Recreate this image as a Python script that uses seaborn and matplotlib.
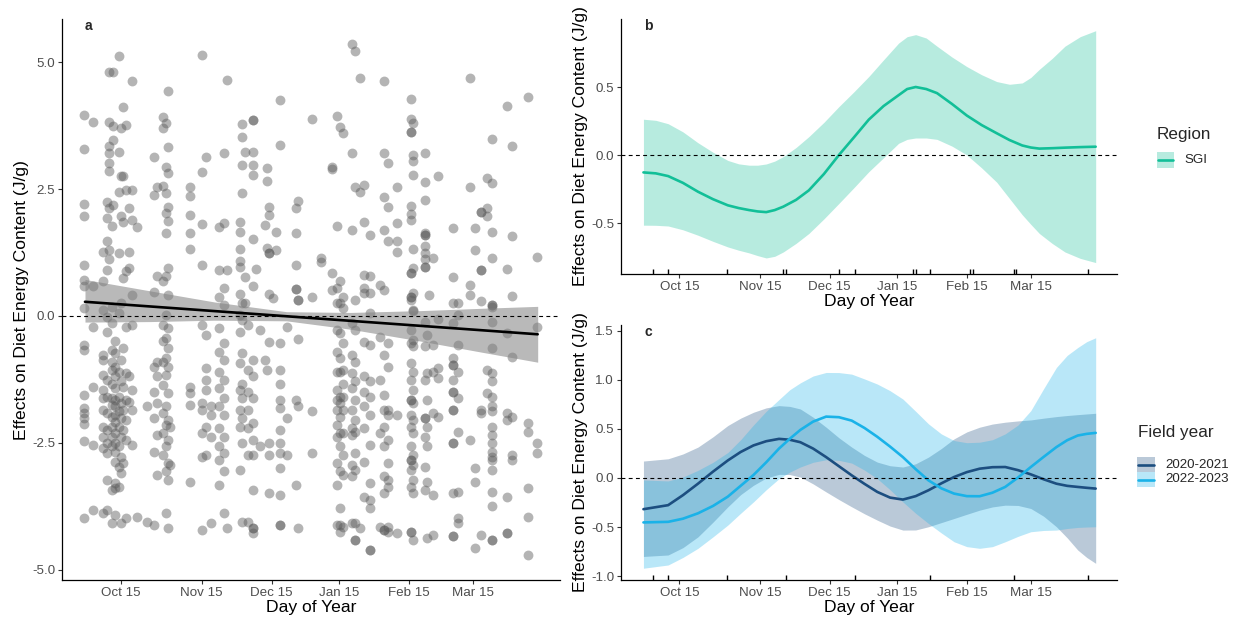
import matplotlib
matplotlib.use("Agg")
import matplotlib.pyplot as plt
import numpy as np
import pandas as pd
import seaborn as sns
from matplotlib.patches import Rectangle
from matplotlib.lines import Line2D

# ------------------------------------------------------------------ data
tick_days = [10, 46, 77, 107, 138, 166.5]
tick_labels = ["Oct 15", "Nov 15", "Dec 15", "Jan 15", "Feb 15", "Mar 15"]

# panel a: partial-residual points, grouped by sampling day
pt_days = [-6.1, -2.1, 2.0, 3.8, 5.0, 6.0, 6.8, 7.5, 9.3, 10.3, 11.2, 12.2, 13.9, 14.9,
           17.1, 21.9, 25.0, 26.0, 29.0, 30.2, 31.0, 32.0, 40.8, 46.0, 47.9, 50.0,
           53.8, 55.9, 57.1, 63.0, 63.9, 65.0, 66.7, 68.9, 70.0, 71.9, 74.1, 74.8,
           76.0, 77.8, 79.0, 80.8, 83.7, 87.9, 88.9, 94.8, 99.0, 103.7, 105.9, 107.4,
           108.9, 112.9, 114.0, 116.3, 118.0, 120.7, 124.9, 127.1, 128.8, 132.5,
           138.8, 139.8, 145.0, 145.9, 147.0, 148.8, 151.0, 157.7, 159.9, 165.0,
           167.3, 169.8, 172.5, 174.7, 181.4, 183.6, 191.0, 194.7]
pt_vals = [
    [3.95, 3.28, 2.21, 1.97, 1.01, 0.71, 0.60, 0.15, -0.57, -0.67, -1.56, -1.82, -1.92, -2.01, -2.13, -2.46, -3.98],
    [3.82, 0.60, -0.21, -1.39, -2.54, -3.83],
    [1.26, 0.69, 0.12, -0.77, -0.87, -1.16, -1.46, -1.62, -1.85, -2.18, -2.38, -2.60, -3.88],
    [2.25, 1.93, 1.47, 0.91, -0.01, -0.31, -1.26, -1.59, -1.92, -2.24, -2.51, -2.70, -3.23, -3.83],
    [4.80, 3.82, 3.35, 3.21, 3.01, 2.86, 2.12, 1.30, 1.13],
    [1.78, 0.18, -0.14, -0.67, -0.90, -1.06, -1.33, -1.62, -1.75, -1.98, -2.18, -2.38, -2.57, -3.43, -4.08],
    [4.81, 3.74, 3.47, 2.19],
    [-0.50, -0.73, -1.00, -1.19, -1.42, -1.65, -1.78, -1.95, -2.08, -2.31, -2.51, -2.67, -2.87, -3.29, -3.39, -3.92],
    [5.13, 3.24, 2.45, 1.24, 0.05, -1.10, -1.59, -1.88, -2.18, -2.57, -2.97, -3.36],
    [3.70, 2.75, 1.97, 0.25, -0.87, -1.29, -1.72, -2.01, -2.38, -2.77, -3.10, -4.08],
    [4.12, 2.75, 1.86, 0.74, -0.64, -1.39, -1.85, -2.24, -2.90],
    [3.76, 2.48, 0.88, -0.21, -1.13, -1.65, -2.05, -2.44, -3.98],
    [2.12, 1.27, 0.94, -1.19, -1.69],
    [4.63, 2.48, 1.89, 0.42, -0.18, -1.46, -1.85, -2.54],
    [1.75, -3.95],
    [-1.77, -4.05],
    [3.14, 2.39, 0.48, -1.00, -1.49, -2.01, -2.67, -4.11],
    [2.55, 0.79, -0.90, -1.19, -1.72, -2.34, -3.13],
    [3.91, 3.70, 2.57, 0.68, -0.18, -0.50, -0.90, -1.36, -1.92, -2.31, -2.74],
    [3.81, 2.94, 2.42, 2.02, 1.63, 0.78, 0.02, -0.44, -0.83, -1.16, -1.78, -2.15, -2.57, -3.06, -3.88],
    [4.43, 3.32, 2.81, 2.14, 1.87, 0.94, 0.42, -0.24, -0.64, -1.00, -1.52, -2.05, -2.44, -2.90, -3.23, -4.18],
    [-2.18, -2.93],
    [2.55, 2.37, 1.99, 1.63, 1.32, -1.39, -1.52, -1.75, -3.26],
    [5.14, 2.83, 1.81, 1.01, -0.18, -1.72, -1.85, -2.31, -2.77, -4.21],
    [3.14, -0.37, -1.03, -1.26, -1.46, -2.18, -2.74],
    [-1.78, -1.95, -2.38, -4.08],
    [1.75, 0.90, 0.38, -0.24, -0.70, -1.10, -1.42, -1.78, -2.21, -2.57, -2.83, -3.33],
    [3.22, 1.83, 0.55, 0.22, -0.54, -0.87, -1.26, -1.62, -1.95, -2.38, -2.70, -3.06, -3.88],
    [4.65, 0.90, -4.18],
    [1.86, 1.65, 1.32, 1.09, 0.96, 0.44, 0.02, -0.31, -0.93, -1.46, -1.85, -2.18, -3.03],
    [3.78, 3.52, 2.98, 2.43, 0.25, -0.08, -0.73, -1.33, -1.62, -2.01, -2.51, -4.05],
    [3.24, 0.76, 0.25],
    [-0.18, -1.06, -1.49, -1.85, -2.21, -2.74, -4.05],
    [3.86, 3.86, 3.24, 2.98, 2.77, 1.52, 0.60, -0.87, -1.19, -1.62, -2.11, -2.44, -2.74, -3.43, -4.18, -4.18, -4.28],
    [0.93],
    [-0.28, -2.57],
    [1.79, -0.87],
    [2.91, 2.65, 1.33, -1.06],
    [2.14, 1.99, 1.24, 1.24, 0.44, -0.51, -2.51, -2.74, -3.49],
    [0.35],
    [1.66, 1.30],
    [4.26, 3.37, -0.54, -1.06, -1.33, -1.65, -1.82, -2.24, -2.51, -2.70, -3.00, -3.52, -4.11, -4.11],
    [-0.21, -2.01, -2.74],
    [2.12, 1.64, 1.01, 0.53, 0.53, -1.65, -3.33],
    [2.27, 0.32, 0.32, -0.46, -1.78, -4.18],
    [3.89, 0.38, -1.88, -2.70],
    [1.14, 1.06],
    [2.94, 2.89, 0.84, 0.52],
    [3.93, 1.78, 0.55, 0.25, -0.28, -0.70, -1.10, -1.46, -1.65, -1.85, -2.15, -2.38, -2.90, -3.33, -4.11],
    [3.73, 0.68, 0.25, -0.34, -0.83, -1.10, -1.59, -1.72, -1.98, -2.31, -2.57, -3.06, -3.79, -4.11, -4.25],
    [3.60, 0.38, 0.15, -0.54, -1.06, -1.33, -1.59, -1.85, -2.31, -2.74, -3.13, -4.15],
    [5.36, 3.21, 1.70, -0.14, -0.77, -1.13, -1.42, -1.85, -2.21, -2.34, -2.93, -3.16, -4.08],
    [5.21, 2.55, 0.32, -0.28, -0.90, -1.29, -1.65, -2.05, -2.28, -2.70, -3.03, -4.08, -4.41, -4.41],
    [4.68, 2.45, -4.18],
    [2.58, 1.86, 0.81, 0.55, 0.45, -0.51, -1.19, -1.49, -1.78, -2.21, -2.87, -3.56],
    [1.60, 0.79, 0.45, 0.05, -0.57, -1.29, -1.59, -1.95, -2.54, -3.29, -3.62, -3.79, -4.61, -4.61],
    [0.61, -0.41, -1.26, -2.31, -4.15],
    [4.62, 3.21, 2.35, 1.70, 0.52, -0.77, -1.56, -1.85, -2.18, -2.57, -3.16, -3.49, -4.21, -4.21],
    [3.01, 2.14, 1.47, -0.54, -1.00, -1.85, -1.95, -2.44, -2.90, -3.23, -3.36, -4.15, -4.25],
    [2.55, 1.84, 1.47, 1.26, -1.95, -4.28],
    [4.27, 3.88, 3.62, 3.62, 2.16, 2.01, 1.89, 0.84, 0.84, 0.38, 0.38, 0.31, -0.28, -0.54, -0.93, -1.26,
     -1.65, -1.65, -1.95, -2.18, -2.57, -2.83, -2.83, -3.03, -3.36, -4.25, -4.25],
    [3.80, 3.17, 3.06, 2.78, 1.32, 0.94, 0.45, 0.12, 0.09, -0.47, -0.60, -1.10, -1.46, -1.72, -2.05, -2.31,
     -2.74, -2.93, -3.23, -3.49, -4.41],
    [3.21, 2.63, 2.29, 1.64, 1.60, 1.60, 1.37, 1.24, 1.12, 0.97, 0.97, -0.11, -0.60, -1.26, -2.01, -2.01, -2.38, -2.97, -3.43],
    [-0.37, -1.13, -1.65, -2.18, -2.57, -3.26, -4.38],
    [0.41],
    [1.14, -0.57, -1.10, -1.92, -3.52, -4.31],
    [2.76, -0.05, -1.03, -1.23, -1.98],
    [1.73, 0.76, 0.25, -0.14, -0.83, -0.96, -0.96, -1.26, -1.49, -1.49, -1.85, -1.85, -2.51, -2.51, -3.49, -4.34, -4.34],
    [0.25, 0.02, -0.57, -1.10, -1.62, -2.28, -3.46, -3.98, -4.08],
    [4.68, 2.55, 0.61, 0.42, -2.44],
    [1.73, 1.30, -3.00, -3.26, -4.57],
    [2.04, 2.04, 0.91, 0.91, 0.29, -1.85, -1.92, -4.31],
    [2.71, 2.12, 1.96, -1.06, -1.52],
    [3.49, 2.61, 1.65, 1.14, 0.22, 0.22, 0.18, -0.11, -0.64, -1.13, -1.29, -1.59, -1.78, -1.88, -2.18, -2.34,
     -2.51, -2.67, -2.77, -2.83, -3.03, -3.46, -3.75, -4.41, -4.41],
    [4.14, 0.92, -0.34, -1.92, -2.05, -3.56, -4.28, -4.28],
    [3.35, 1.58, 0.40, -0.80, -1.98, -2.74, -2.83],
    [4.32, -2.11, -2.28, -3.39, -3.95, -4.70],
    [1.16, -0.21, -2.51, -2.70],
]

# panel a: linear fit with confidence band
fit_day = [-5.8, 23.1, 51.6, 83.6, 112.0, 143.1, 169.8, 195.1]
fit_mid = [0.28, 0.188, 0.097, -0.005, -0.095, -0.194, -0.279, -0.36]
fit_lo = [-0.12, -0.11, -0.083, -0.095, -0.26, -0.494, -0.709, -0.91]
fit_hi = [0.72, 0.495, 0.277, 0.085, 0.07, 0.106, 0.151, 0.19]

# panel b: SGI smooth
b_day = [-6.0, -0.5, 5.0, 11.6, 18.3, 25.0, 31.6, 36.4, 41.1, 44.9,
         48.7, 52.5, 56.3, 62.0, 67.7, 74.4, 81.1, 87.8, 94.4, 101.0,
         107.7, 111.5, 115.3, 120.0, 124.8, 131.5, 138.1, 144.7, 151.4, 157.1,
         162.8, 166.6, 170.4, 176.1, 181.8, 188.6, 195.5]
b_mid = [-0.128, -0.135, -0.155, -0.205, -0.27, -0.325, -0.37, -0.39, -0.405, -0.415,
         -0.42, -0.405, -0.38, -0.33, -0.26, -0.14, 0.0, 0.13, 0.26, 0.36,
         0.44, 0.485, 0.50, 0.485, 0.455, 0.375, 0.29, 0.22, 0.16, 0.11,
         0.07, 0.055, 0.047, 0.05, 0.054, 0.058, 0.061]
b_hi = [0.263, 0.255, 0.23, 0.17, 0.09, 0.02, -0.04, -0.065, -0.075, -0.075,
        -0.066, -0.045, -0.012, 0.055, 0.135, 0.24, 0.356, 0.465, 0.577, 0.70,
        0.823, 0.87, 0.885, 0.86, 0.80, 0.72, 0.65, 0.59, 0.54, 0.52,
        0.53, 0.57, 0.63, 0.71, 0.80, 0.87, 0.914]
b_lo = [-0.516, -0.517, -0.522, -0.55, -0.59, -0.635, -0.676, -0.70, -0.72, -0.74,
        -0.757, -0.745, -0.713, -0.65, -0.577, -0.47, -0.356, -0.24, -0.123, -0.02,
        0.086, 0.115, 0.125, 0.125, 0.115, 0.065, 0.0, -0.095, -0.2, -0.32,
        -0.44, -0.51, -0.577, -0.65, -0.713, -0.76, -0.791]
b_rug = [-1.9, 5.1, 31.1, 56.3, 57.4, 81.3, 88.3, 114.3, 115.5, 121.7, 139.5, 140.7, 159.0, 160.0, 192.0]

# panel c: field-year smooths
c_day = [-6.0, 5.0, 11.6, 18.3, 25.0, 31.6, 37.3, 43.0, 48.7, 54.4,
         59.2, 63.9, 69.6, 75.4, 81.1, 86.8, 92.5, 98.2, 103.9, 109.6,
         115.3, 121.0, 126.7, 132.4, 138.1, 143.8, 149.5, 155.2, 160.9, 166.6,
         172.3, 178.0, 182.8, 187.5, 191.5, 195.5]
y2020_mid = [-0.318, -0.277, -0.175, -0.058, 0.065, 0.179, 0.265, 0.332, 0.375, 0.399,
             0.39, 0.365, 0.30, 0.213, 0.12, 0.027, -0.06, -0.142, -0.20, -0.22,
             -0.185, -0.125, -0.055, 0.01, 0.06, 0.095, 0.11, 0.112, 0.08, 0.037,
             -0.013, -0.058, -0.08, -0.091, -0.10, -0.108]
y2020_hi = [0.173, 0.196, 0.245, 0.315, 0.42, 0.535, 0.61, 0.67, 0.715, 0.738,
            0.73, 0.704, 0.62, 0.518, 0.41, 0.315, 0.23, 0.162, 0.125, 0.112,
            0.145, 0.213, 0.30, 0.399, 0.47, 0.518, 0.55, 0.569, 0.582, 0.592,
            0.61, 0.626, 0.637, 0.646, 0.653, 0.66]
y2020_lo = [-0.80, -0.785, -0.71, -0.60, -0.45, -0.294, -0.17, -0.075, 0.0, 0.037,
            0.035, 0.01, -0.06, -0.142, -0.22, -0.294, -0.365, -0.43, -0.49, -0.531,
            -0.53, -0.497, -0.455, -0.413, -0.37, -0.328, -0.295, -0.277, -0.28, -0.311,
            -0.39, -0.497, -0.61, -0.734, -0.81, -0.87]
y2022_mid = [-0.453, -0.447, -0.415, -0.36, -0.285, -0.19, -0.08, 0.03, 0.16, 0.30,
             0.40, 0.49, 0.575, 0.626, 0.62, 0.585, 0.51, 0.42, 0.32, 0.213,
             0.09, -0.024, -0.105, -0.159, -0.185, -0.186, -0.15, -0.091, 0.005, 0.112,
             0.215, 0.315, 0.385, 0.433, 0.45, 0.46]
y2022_hi = [-0.02, -0.03, 0.01, 0.078, 0.16, 0.26, 0.39, 0.54, 0.68, 0.80,
            0.90, 0.97, 1.04, 1.076, 1.075, 1.059, 1.01, 0.958, 0.89, 0.805,
            0.68, 0.552, 0.45, 0.382, 0.36, 0.365, 0.39, 0.45, 0.54, 0.687,
            0.91, 1.127, 1.25, 1.33, 1.39, 1.43]
y2022_lo = [-0.92, -0.887, -0.81, -0.717, -0.60, -0.48, -0.36, -0.244, -0.12, -0.007,
            0.06, 0.112, 0.16, 0.186, 0.18, 0.152, 0.08, -0.007, -0.12, -0.244,
            -0.36, -0.464, -0.56, -0.65, -0.70, -0.717, -0.70, -0.65, -0.595, -0.548,
            -0.535, -0.531, -0.515, -0.504, -0.50, -0.497]
c_rug = [-1.9, 5.1, 31.1, 57.4, 88.3, 121.7, 159.0, 192.0]

# ------------------------------------------------------------------ style
sns.set_theme(style="ticks")
plt.rcParams['font.family'] = ['Liberation Sans', 'DejaVu Sans']

TEAL = "#12BF98"
NAVY = "#1C4E80"
CYAN = "#1AB2E8"

W, H = 1239, 622
fig = plt.figure(figsize=(W / 100, H / 100), dpi=100)
fig.patch.set_facecolor("white")


def axes_px(l, t, r, b):
    return fig.add_axes([l / W, 1 - b / H, (r - l) / W, (b - t) / H])


def style(ax, ylim, yticks, ylabels):
    ax.set_xlim(-16, 205)
    ax.set_ylim(*ylim)
    ax.set_xticks(tick_days)
    ax.set_xticklabels(tick_labels)
    ax.set_yticks(yticks)
    ax.set_yticklabels(ylabels)
    for s in ["top", "right"]:
        ax.spines[s].set_visible(False)
    for s in ["left", "bottom"]:
        ax.spines[s].set_color("black")
        ax.spines[s].set_linewidth(0.9)
    ax.tick_params(axis="both", direction="out", length=3, width=0.8, color="#333333",
                   labelsize=9.6, labelcolor="#4d4d4d", pad=2, bottom=True, left=True)
    ax.set_xlabel("Day of Year", fontsize=12.6, labelpad=1, color="black")
    ax.set_ylabel("Effects on Diet Energy Content (J/g)", fontsize=12.6, labelpad=2, color="black")
    ax.axhline(0, color="black", lw=0.8, ls=(0, (3.5, 3)), zorder=5)
    ax.set_facecolor("white")


axA = axes_px(62, 19, 560, 580)
axB = axes_px(621, 19, 1117, 274)
axC = axes_px(621, 325, 1117, 580)

# ---- panel a
xs, ys = [], []
for d, vals in zip(pt_days, pt_vals):
    xs += [d] * len(vals)
    ys += vals
df_pts = pd.DataFrame({"day": xs, "val": ys})
sns.scatterplot(data=df_pts, x="day", y="val", ax=axA, color="#595959", alpha=0.45,
                s=50, linewidth=0, legend=False, zorder=2)
axA.fill_between(fit_day, fit_lo, fit_hi, color="#808080", alpha=0.55, lw=0, zorder=3)
sns.lineplot(x=fit_day, y=fit_mid, ax=axA, color="black", lw=1.9, estimator=None, zorder=4)
style(axA, (-5.2, 5.85), [-5, -2.5, 0, 2.5, 5], ["-5.0", "-2.5", "0.0", "2.5", "5.0"])
axA.text(0.054, 0.9875, "a", transform=axA.transAxes, fontsize=10, fontweight="bold",
         ha="center", va="center")

# ---- panel b
axB.fill_between(b_day, b_lo, b_hi, color=TEAL, alpha=0.3, lw=0, zorder=2)
sns.lineplot(x=b_day, y=b_mid, ax=axB, color=TEAL, lw=1.9, estimator=None, zorder=4)
sns.rugplot(x=b_rug, ax=axB, height=0.02, color="black", lw=0.8)
style(axB, (-0.875, 1.0), [-0.5, 0, 0.5], ["-0.5", "0.0", "0.5"])
axB.text(0.056, 0.973, "b", transform=axB.transAxes, fontsize=10, fontweight="bold",
         ha="center", va="center")

# ---- panel c
axC.fill_between(c_day, y2020_lo, y2020_hi, color=NAVY, alpha=0.3, lw=0, zorder=2)
axC.fill_between(c_day, y2022_lo, y2022_hi, color=CYAN, alpha=0.3, lw=0, zorder=2)
sns.lineplot(x=c_day, y=y2020_mid, ax=axC, color=NAVY, lw=1.9, estimator=None, zorder=4)
sns.lineplot(x=c_day, y=y2022_mid, ax=axC, color=CYAN, lw=1.9, estimator=None, zorder=4)
sns.rugplot(x=c_rug, ax=axC, height=0.02, color="black", lw=0.8)
style(axC, (-1.04, 1.56), [-1, -0.5, 0, 0.5, 1, 1.5],
      ["-1.0", "-0.5", "0.0", "0.5", "1.0", "1.5"])
axC.text(0.056, 0.973, "c", transform=axC.transAxes, fontsize=10, fontweight="bold",
         ha="center", va="center")


# ---- legends (drawn in figure pixel coordinates)
def fig_rect(x0, y0, x1, y1, color, alpha):
    fig.patches.append(Rectangle((x0 / W, 1 - y1 / H), (x1 - x0) / W, (y1 - y0) / H,
                                 transform=fig.transFigure, facecolor=color, alpha=alpha,
                                 edgecolor="none"))


def fig_line(x0, x1, y, color):
    fig.lines.append(Line2D([x0 / W, x1 / W], [1 - y / H, 1 - y / H],
                            transform=fig.transFigure, color=color, lw=1.9))


fig.text(1157 / W, 1 - 135 / H, "Region", fontsize=12.3, ha="left", va="center")
fig_rect(1157, 152, 1174, 168, TEAL, 0.3)
fig_line(1158, 1173, 160, TEAL)
fig.text(1184 / W, 1 - 160 / H, "SGI", fontsize=9.6, ha="left", va="center")

fig.text(1138 / W, 1 - 432 / H, "Field year", fontsize=12.3, ha="left", va="center")
fig_rect(1137, 457, 1155, 472, NAVY, 0.3)
fig_line(1138, 1154, 464.5, NAVY)
fig.text(1165 / W, 1 - 464.5 / H, "2020-2021", fontsize=9.6, ha="left", va="center")
fig_rect(1137, 472, 1155, 487, CYAN, 0.3)
fig_line(1138, 1154, 479.5, CYAN)
fig.text(1165 / W, 1 - 479.5 / H, "2022-2023", fontsize=9.6, ha="left", va="center")

fig.savefig("out.png", dpi=100, facecolor="white")
